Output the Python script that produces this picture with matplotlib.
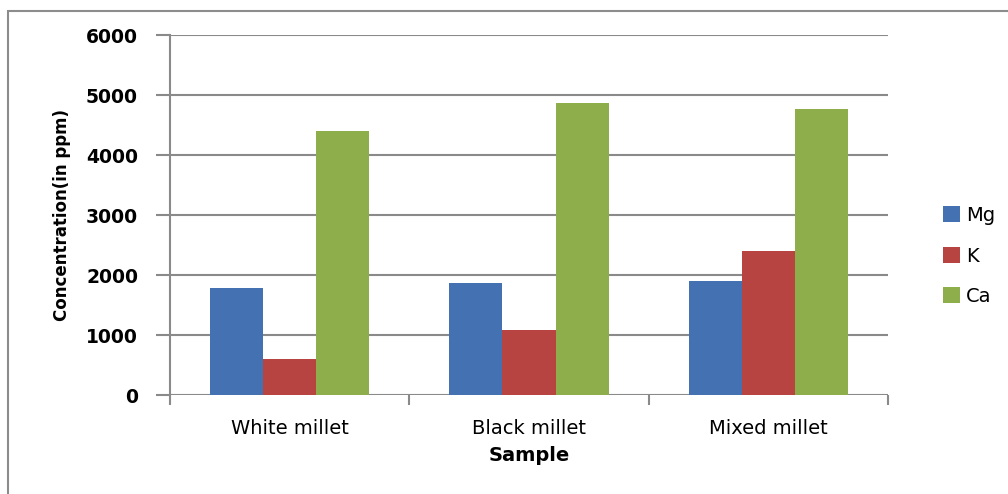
import numpy as np
import matplotlib
matplotlib.use("Agg")
import matplotlib.pyplot as plt
from matplotlib.patches import Rectangle

# data
samples = ["White millet", "Black millet", "Mixed millet"]
mg = [1780, 1875, 1900]
k = [595, 1085, 2405]
ca = [4400, 4875, 4765]
series_names = ["Mg", "K", "Ca"]
colors = ["#4471B2", "#B74441", "#8DAE4B"]

fig = plt.figure(figsize=(10.08, 4.94), dpi=100)
ax = fig.add_axes([170 / 1008, 1 - 395 / 494, 718 / 1008, 360 / 494])

# outer chart border (runs off the right/bottom edge like the original crop)
fig.patches.append(Rectangle((8 / 1008, -0.1), 1.2, 1 - 11 / 494 + 0.1,
                             transform=fig.transFigure, fill=False,
                             edgecolor="#8c8c8c", linewidth=1.5))

x = np.arange(len(samples))
w = 1 / 4.5
for i, (vals, name) in enumerate(zip([mg, k, ca], series_names)):
    ax.bar(x + (i - 1) * w, vals, width=w, color=colors[i], label=name,
           linewidth=0, zorder=3)

ax.set_xlim(-0.5, 2.5)
ax.set_ylim(0, 6000)
ax.set_yticks(range(0, 6001, 1000))
ax.yaxis.grid(True, color="#8a8a8a", linewidth=1.5, zorder=0)

for s in ["top", "right", "bottom"]:
    ax.spines[s].set_visible(False)
ax.spines["left"].set_color("#8a8a8a")
ax.spines["left"].set_linewidth(1.5)

# category ticks at group boundaries, labels at centres
ax.set_xticks([-0.5, 0.5, 1.5, 2.5])
ax.set_xticklabels([])
ax.set_xticks(x, minor=True)
ax.set_xticklabels(samples, minor=True, fontsize=14)
ax.tick_params(axis="x", which="major", length=7, width=1.5, color="#8a8a8a", direction="out")
ax.tick_params(axis="x", which="minor", length=0, pad=17)
ax.tick_params(axis="y", length=10, width=1.5, color="#8a8a8a", pad=13, labelsize=13.5)
for t in ax.get_yticklabels():
    t.set_fontweight("bold")

ax.set_xlabel("Sample", fontsize=14, fontweight="bold", labelpad=6)
ax.set_ylabel("Concentration(in ppm)", fontsize=12, fontweight="bold", labelpad=11)

fig.legend(loc="center left", bbox_to_anchor=(925 / 1008, 1 - 256 / 494),
           frameon=False, fontsize=14, handlelength=0.9, handleheight=0.9,
           handletextpad=0.3, labelspacing=1.1)

fig.savefig("out.png", dpi=100)
